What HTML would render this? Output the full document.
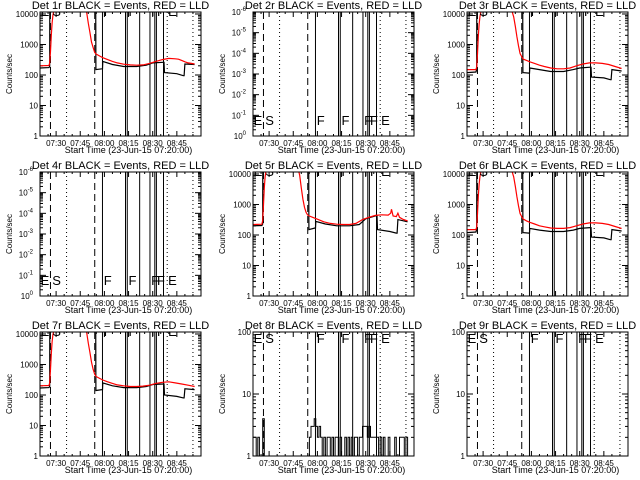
<!DOCTYPE html>
<html><head><meta charset="utf-8">
<style>
html,body{margin:0;padding:0;background:#fff;}
svg{display:block;font-family:"Liberation Sans",sans-serif;}
</style></head>
<body>
<svg id="chart" width="640" height="480" viewBox="0 0 640 480" xmlns="http://www.w3.org/2000/svg">
<rect width="640" height="480" fill="#fff"/>
</svg>
<script>
// ---- data (minutes after 07:20:00) ----
const xTickMinutes = [10,25,40,55,70,85];
const xTickLabels = ["07:30","07:45","08:00","08:15","08:30","08:45"];
const solidLines = [38.8,53.1,54.2,61.9,68.3,71.3,72.3,76.7];
const dashedLines = [6.5,34];
const dottedLines = [16.5,79,95];
const markLetters = ["E","S","F","F","F","F","E"];
const markMinutes = [0.4,7.6,39.6,55,69,72.7,79.6];

const p1RedT = [0,5.5,6,6.5,7,7.5,8,8.5,9,28,29,30,31,32,33,34,35,37,39,42,45,48,52,56,60,64,68,72,76,80,84,86,88,90,92,94,96];
const p1RedV = [200,205,250,600,2000,5000,9000,12000,15000,15000,11000,5000,2500,1200,800,550,480,420,370,320,280,250,225,215,210,215,240,280,320,350,340,330,300,270,250,240,230];
const p1BlkT = [0,5.5,6,6.1,34.6,34.7,38.5,38.8,39,45,52,60,66,70,76.5,77,77.3,85,89,89.5,90,96];
const p1BlkV = [170,175,190,30000,30000,150,160,160,280,220,190,190,210,250,260,260,120,110,95,95,230,220];

const p3RedT = [0,5.5,6,6.5,7,7.5,8,8.5,9,27,28,29,30,31,32,33,34,35,37,39,42,45,48,52,56,60,64,68,72,76,80,84,88,92,96];
const p3RedV = [150,150,180,500,1800,4500,8000,11000,15000,15000,12000,8000,4000,1800,900,500,400,330,300,270,240,210,190,170,160,160,170,200,230,250,250,240,220,190,165];
const p3BlkT = [0,5.5,6,6.1,34.6,34.7,38.5,38.8,39,45,52,60,66,70,76.5,77,77.3,85,89,89.5,90,96];
const p3BlkV = [120,125,150,30000,30000,120,115,115,170,150,130,130,150,170,180,180,85,80,70,70,150,135];

const p5RedT = [0,5.5,6,6.5,7,7.5,8,8.5,28,29,30,31,32,33,34,35,37,40,44,48,52,56,60,64,68,72,76,80,84,85.5,86,87,89,90,91,93,96];
const p5RedV = [220,225,300,1000,3500,8000,12000,15000,15000,9000,3500,1500,800,550,450,420,380,330,270,240,225,220,220,240,320,380,440,460,450,520,700,420,400,520,380,330,290];
const p5BlkT = [0,5.5,6,6.1,34.6,34.7,38.5,38.8,39,45,52,60,66,70,76.5,77,77.3,85,89,89.5,90,96];
const p5BlkV = [200,205,230,30000,30000,150,170,170,280,230,200,200,220,340,430,430,150,130,115,115,320,270];

const p7RedT = [0,5.5,6,6.5,7,7.5,8,8.5,9,28,29,30,31,32,33,34,35,37,39,42,45,48,52,56,60,64,68,72,76,80,84,88,92,96];
const p7RedV = [200,205,250,700,2200,5500,9500,12000,15000,15000,11000,5000,2500,1200,700,480,400,350,310,270,240,215,200,190,190,195,210,240,260,270,250,230,210,190];
const p7BlkT = [0,5.5,6,6.1,34.6,34.7,38.5,38.8,39,45,52,60,66,70,76.5,77,77.3,85,89,89.5,90,96];
const p7BlkV = [170,175,190,30000,30000,140,150,150,250,200,175,175,190,220,230,230,100,90,80,80,160,150];

const p6RedT = [0,5.5,6,6.5,7,7.5,8,8.5,9,27,28,29,30,31,32,33,34,35,37,39,42,45,48,52,56,60,64,68,72,76,80,84,88,92,96];
const p6RedV = [150,150,180,500,1800,4500,8000,11000,15000,15000,12000,8000,4000,1800,900,500,400,330,290,260,230,200,185,170,165,165,175,200,230,250,250,240,220,190,165];
const p6BlkT = [0,5.5,6,6.1,34.6,34.7,38.5,38.8,39,45,52,60,66,70,76.5,77,77.3,85,89,89.5,90,96];
const p6BlkV = [120,125,150,30000,30000,120,115,115,165,145,130,130,145,165,175,175,85,80,70,70,150,135];

const p8Counts = [2,2,1,2,0,0,4,
 0,0,0,0,0,0,0,0,0,0,0,0,0,0,0,0,0,0,0,0,0,0,0,0,0,0,0,0,
 2,3,3,4,3,2,3,2,
 1,2,1,2,2,1,2,1,2,2,1,2,1,1,2,1,2,1,2,1,2,
 2,1,2,2,3,3,3,2,3,2,2,2,2,2,1,
 2,1,2,1,1,2,1,0,1,2,1,1,2,2,2,1,2,
 0,0,0,0];

const logTicks4 = ["1","10","100","1000","10000"];
const logTicks2 = ["1","10","100"];
const weirdTicks = ["0","-1","-2","-3","-4","-5","-6"];

// ---- layout ----
const NS = "http://www.w3.org/2000/svg";
const svg = document.getElementById("chart");
const W = 161, H = 124, TMAX = 100;
function mk(tag, attrs, parent){
  const e = document.createElementNS(NS, tag);
  for (const k in attrs) e.setAttribute(k, attrs[k]);
  (parent||svg).appendChild(e);
  return e;
}

function panel(idx, bx, by, cfg){
  const g = mk("g", {});
  
  
  const xs = t => bx + t / TMAX * W;
  const lmin = cfg.lmin, lmax = cfg.lmax;
  const ys = v => by + H - (Math.log10(Math.max(v, 1e-6)) - lmin) / (lmax - lmin) * H;

  const clipId = "clip" + idx;
  const cp = mk("clipPath", {id: clipId}, g);
  mk("rect", {x: bx, y: by, width: W, height: H}, cp);

  const title = mk("text", {x: bx + W/2, y: by - 3, "text-anchor": "middle", "font-size": 11}, g);
  title.textContent = "Det " + idx + "r BLACK = Events, RED = LLD";
  
  

  const yt = mk("text", {x: 0, y: 0, "text-anchor": "middle", "font-size": 8,
    transform: "translate(" + (bx - 28) + "," + (by + H/2) + ") rotate(-90)"}, g);
  yt.textContent = "Counts/sec";
  
  

  const xt = mk("text", {x: bx + W/2 + 8, y: by + H + 17, "text-anchor": "middle", "font-size": 9}, g);
  xt.textContent = "Start Time (23-Jun-15 07:20:00)";
  
  

  for (let i = 0; i < xTickMinutes.length; i++){
    const x = xs(xTickMinutes[i]);
    mk("line", {x1: x, x2: x, y1: by + H, y2: by + H - 5, stroke: "#000"}, g);
    mk("line", {x1: x, x2: x, y1: by, y2: by + 5, stroke: "#000"}, g);
    const tl = mk("text", {x: x, y: by + H + 10, "text-anchor": "middle", "font-size": 8}, g);
    tl.textContent = xTickLabels[i];
    
    
  }
  for (let t = 5; t < TMAX; t += 5){
    if (xTickMinutes.indexOf(t) >= 0) continue;
    mk("line", {x1: xs(t), x2: xs(t), y1: by + H, y2: by + H - 2, stroke: "#000"}, g);
    mk("line", {x1: xs(t), x2: xs(t), y1: by, y2: by + 2, stroke: "#000"}, g);
  }

  for (let d = lmin; d <= Math.floor(lmax); d++){
    const y = by + H - (d - lmin) / (lmax - lmin) * H;
    mk("line", {x1: bx, x2: bx + 6, y1: y, y2: y, stroke: "#000"}, g);
    mk("line", {x1: bx + W - 6, x2: bx + W, y1: y, y2: y, stroke: "#000"}, g);
    const lab = cfg.labels[d - lmin];
    if (lab !== undefined){
      let tl;
      if (cfg.weird){
        tl = mk("text", {x: bx - 7, y: y + 3, "text-anchor": "end", "font-size": 8}, g);
        tl.textContent = "10";
        const sup = mk("tspan", {"font-size": 6, dy: -4}, tl);
        sup.textContent = lab;
      } else {
        tl = mk("text", {x: bx - 2, y: y + 3, "text-anchor": "end", "font-size": 8}, g);
        tl.textContent = lab;
      }
      
      
    }
    for (let m = 2; m <= 9; m++){
      const ym = by + H - (d + Math.log10(m) - lmin) / (lmax - lmin) * H;
      if (ym < by) break;
      mk("line", {x1: bx, x2: bx + 3, y1: ym, y2: ym, stroke: "#000"}, g);
      mk("line", {x1: bx + W - 3, x2: bx + W, y1: ym, y2: ym, stroke: "#000"}, g);
    }
  }

  const cg = mk("g", {"clip-path": "url(#" + clipId + ")"}, g);

  solidLines.forEach(t => {
    const l = mk("line", {x1: xs(t), x2: xs(t), y1: by, y2: by + H, stroke: "#000", "stroke-width": 1}, cg);
    
    
  });
  dashedLines.forEach(t => {
    const l = mk("line", {x1: xs(t), x2: xs(t), y1: by, y2: by + H, stroke: "#000", "stroke-dasharray": "7,4"}, cg);
    
    
  });
  dottedLines.forEach(t => {
    const l = mk("line", {x1: xs(t), x2: xs(t), y1: by, y2: by + H, stroke: "#000", "stroke-dasharray": "1,3"}, cg);
    
    
  });

  function poly(T, V, color, name){
    let pts = [];
    for (let i = 0; i < T.length; i++) pts.push(xs(T[i]).toFixed(1) + "," + ys(V[i]).toFixed(1));
    const p = mk("polyline", {points: pts.join(" "), fill: "none", stroke: color, "stroke-width": 1.2}, cg);
    
    
  }
  if (cfg.blkT) poly(cfg.blkT, cfg.blkV, "#000", "events-series");
  if (cfg.redT) poly(cfg.redT, cfg.redV, "#ff0000", "lld-series");
  if (cfg.counts){
    let pts = [];
    const bw = TMAX / cfg.counts.length;
    for (let i = 0; i < cfg.counts.length; i++){
      const v = cfg.counts[i];
      const y = v > 0 ? ys(v) : by + H + 5;
      pts.push(xs(i*bw).toFixed(1) + "," + y.toFixed(1));
      pts.push(xs((i+1)*bw).toFixed(1) + "," + y.toFixed(1));
    }
    const p = mk("polyline", {points: pts.join(" "), fill: "none", stroke: "#000", "stroke-width": 1}, cg);
    
    
  }

  let ly, lparent;
  if (cfg.lettersBottom){ ly = by + H - 11; lparent = g; }
  else if (cfg.lettersHidden){ ly = by + 4; lparent = cg; }
  else { ly = by + 11; lparent = g; }
  for (let i = 0; i < markLetters.length; i++){
    const tx = mk("text", {x: xs(markMinutes[i]), y: ly, "font-size": 13}, lparent);
    tx.textContent = markLetters[i];
    
    
  }

  const fr = mk("rect", {x: bx, y: by, width: W, height: H, fill: "none", stroke: "#000", "stroke-width": 1}, g);
  
  
}

const colX = [40, 253, 467];
const rowY = [12, 172, 332];
const big = {lmin: 0, lmax: 4.065, labels: logTicks4, lettersHidden: true};
panel(1, colX[0], rowY[0], Object.assign({redT:p1RedT, redV:p1RedV, blkT:p1BlkT, blkV:p1BlkV}, big));
panel(2, colX[1], rowY[0], {lmin:0, lmax:6, labels:weirdTicks, weird:true, lettersBottom:true});
panel(3, colX[2], rowY[0], Object.assign({redT:p3RedT, redV:p3RedV, blkT:p3BlkT, blkV:p3BlkV}, big));
panel(4, colX[0], rowY[1], {lmin:0, lmax:6, labels:weirdTicks, weird:true, lettersBottom:true});
panel(5, colX[1], rowY[1], Object.assign({redT:p5RedT, redV:p5RedV, blkT:p5BlkT, blkV:p5BlkV}, big));
panel(6, colX[2], rowY[1], Object.assign({redT:p6RedT, redV:p6RedV, blkT:p6BlkT, blkV:p6BlkV}, big));
panel(7, colX[0], rowY[2], Object.assign({redT:p7RedT, redV:p7RedV, blkT:p7BlkT, blkV:p7BlkV}, big));
panel(8, colX[1], rowY[2], {lmin:0, lmax:2, labels:logTicks2, counts:p8Counts});
panel(9, colX[2], rowY[2], {lmin:0, lmax:2, labels:logTicks2});
</script>
</body></html>
